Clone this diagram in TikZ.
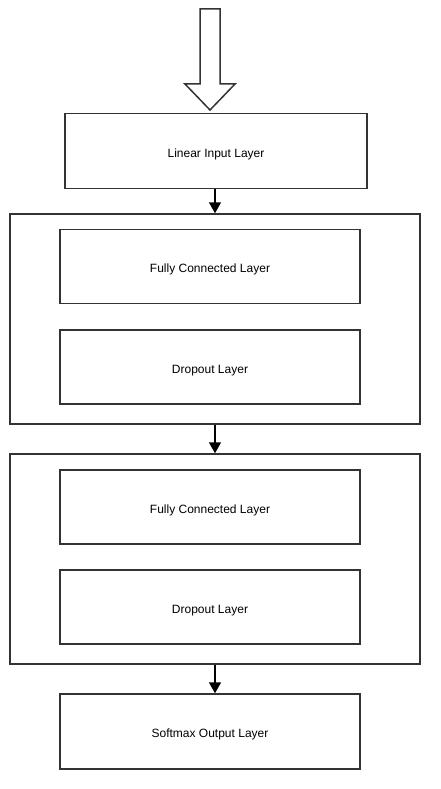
\documentclass[tikz,border=0pt]{standalone}
\usepackage{fontspec}
\setmainfont{Liberation Sans}
\usetikzlibrary{arrows.meta}
\definecolor{trait}{HTML}{333333}
\tikzset{
  couche/.style={draw=trait, line width=1.5pt, minimum width=300pt, minimum height=74pt,
    inner sep=0pt, text height=12pt, text depth=0pt, font=\fontsize{12}{14}\selectfont},
  bloc/.style={draw=trait, line width=1.5pt, minimum width=410pt, minimum height=210pt, inner sep=0pt},
  fleche/.style={line width=1.5pt, -{Triangle[width=12pt,length=11pt]}}
}
\begin{document}
\begin{tikzpicture}[x=1pt,y=-1pt]
  \useasboundingbox (0,0) rectangle (440,789);
  % grande fleche d'entree
  \draw[trait, line width=1.5pt] (200,9)--(220,9)--(220,84)--(235,84)--(210,110)--(185,84)--(200,84)--cycle;
  \node[couche, minimum width=302pt, minimum height=75pt] (entree) at (216,151) {Linear Input Layer};
  % premier bloc
  \node[bloc] (bloc1) at (215,319) {};
  \node[couche] (fc1) at (210,266.5) {Fully Connected Layer};
  \node[couche] (drop1) at (210,367) {Dropout Layer};
  % second bloc
  \node[bloc] (bloc2) at (215,559) {};
  \node[couche] (fc2) at (210,507) {Fully Connected Layer};
  \node[couche] (drop2) at (210,607) {Dropout Layer};
  % sortie
  \node[couche, minimum height=75pt] (sortie) at (210,731.5) {Softmax Output Layer};
  % liaisons
  \draw[fleche] (entree.south -| bloc1.north) -- (bloc1.north);
  \draw[fleche] (bloc1.south) -- (bloc2.north);
  \draw[fleche] (bloc2.south) -- (bloc2.south |- sortie.north);
\end{tikzpicture}
\end{document}
